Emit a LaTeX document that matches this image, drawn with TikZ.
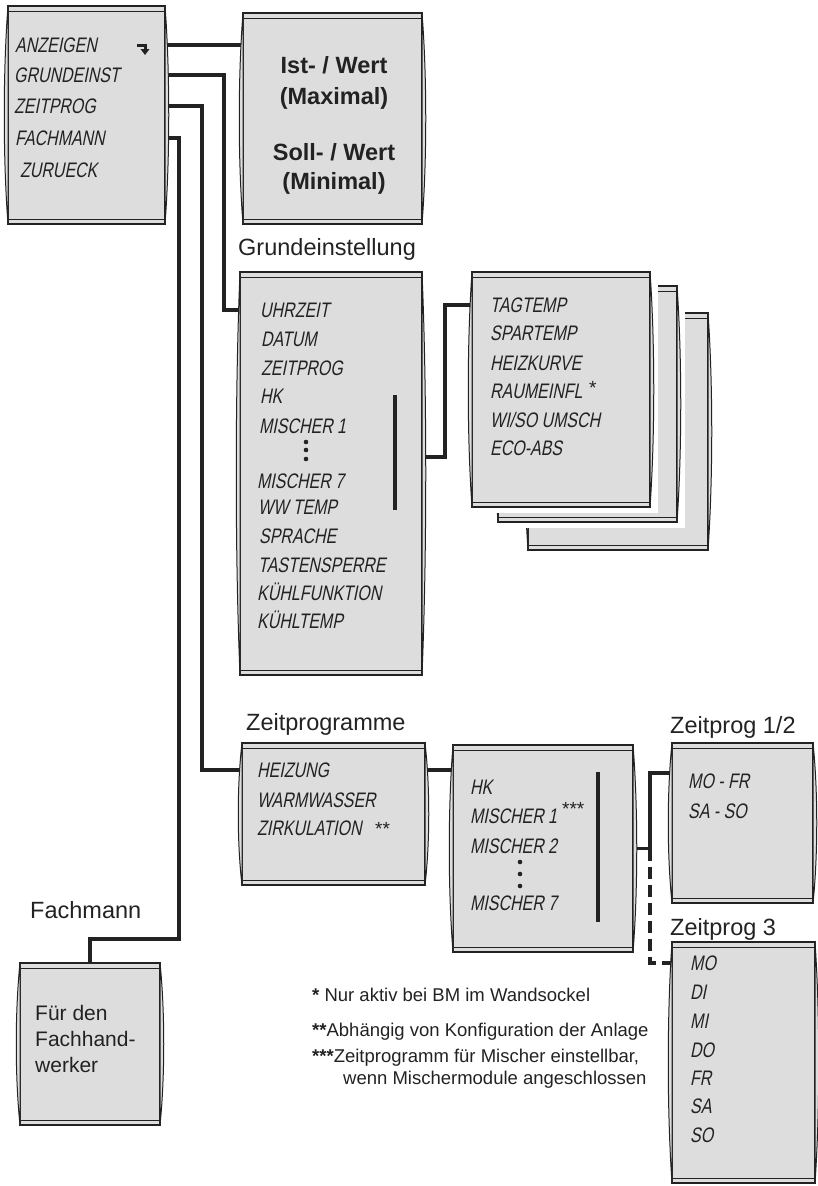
\documentclass[tikz,border=0pt]{standalone}
\usepackage{fontspec}
\setmainfont{Liberation Sans}
\newfontfamily\lcdfont[FakeStretch=0.76,FakeSlant=0.2]{Liberation Sans}
\usepackage{xcolor}
\usepackage{tikz}
\usetikzlibrary{calc,positioning}
\definecolor{lcdgray}{HTML}{DDDDDD}
\definecolor{lcdline}{HTML}{222222}
\pgfdeclarelayer{background}
\pgfsetlayers{background,main}

\tikzset{
  lcdbox/.style={rectangle, draw=lcdline, fill=lcdgray, line width=1.5pt,
    anchor=north west, inner sep=0pt, outer sep=0pt},
  lcd/.style={anchor=base west, inner sep=0pt, text=lcdline,
    font=\lcdfont\fontsize{21}{21}\selectfont},
  menutitle/.style={anchor=base west, inner sep=0pt, text=lcdline,
    font=\fontsize{23.5}{24}\selectfont},
  istext/.style={anchor=base, inner sep=0pt, text=lcdline,
    font=\bfseries\fontsize{23.5}{24}\selectfont},
  boxtext/.style={anchor=base west, inner sep=0pt, text=lcdline,
    font=\fontsize{21}{22}\selectfont},
  hint/.style={anchor=base west, inner sep=0pt, text=lcdline,
    font=\fontsize{18.5}{19}\selectfont},
  star/.style={anchor=base west, inner sep=0pt, text=lcdline,
    font=\fontsize{19}{19}\selectfont},
  wire/.style={draw=lcdline, line width=3.6pt},
  optwire/.style={wire, dash pattern=on 12pt off 6pt}
}

% bezel of a display box: strips on top and bottom, bulging sides
\newcommand{\lcdframe}[1]{%
  \draw[lcdline, line width=0.9pt] ($(#1.north west)+(0,5)$) -- ($(#1.north east)+(0,5)$);
  \draw[lcdline, line width=0.9pt] ($(#1.south west)+(0,-5)$) -- ($(#1.south east)+(0,-5)$);
  \draw[lcdline, fill=lcdgray, line width=1pt] (#1.north west)
    .. controls ($(#1.north west)!0.3!(#1.south west)+(-5,0)$) and ($(#1.north west)!0.7!(#1.south west)+(-5,0)$) .. (#1.south west) -- cycle;
  \draw[lcdline, fill=lcdgray, line width=1pt] (#1.north east)
    .. controls ($(#1.north east)!0.3!(#1.south east)+(5,0)$) and ($(#1.north east)!0.7!(#1.south east)+(5,0)$) .. (#1.south east) -- cycle;
}

\begin{document}
\begin{tikzpicture}[x=1pt,y=-1pt]
  \useasboundingbox (0,0) rectangle (817,1186);

  % Main menu
  \node[lcdbox, minimum width=157pt, minimum height=218pt] (menu) at (8,6) {};
  \lcdframe{menu}
  \node[lcd] (mAnz) at (15,52) {ANZEIGEN};
  \node[lcd] (mGrund) at (14,82) {GRUNDEINST};
  \node[lcd] (mZeit) at (14,113) {ZEITPROG};
  \node[lcd] (mFach) at (15,145) {FACHMANN};
  \node[lcd] (mZur) at (20,177) {ZURUECK};
  \draw[lcdline, line width=3pt] (137,45) -- (145,45) -- (145,50);
  \fill[lcdline] (140.5,49) -- (149.5,49) -- (145,55) -- cycle;

  % Anzeigen
  \node[lcdbox, minimum width=179pt, minimum height=211pt] (ist) at (243,13) {};
  \lcdframe{ist}
  \node[istext] (iIst) at (334,73) {Ist- / Wert};
  \node[istext] (iMax) at (334,104) {(Maximal)};
  \node[istext] (iSoll) at (334,160) {Soll- / Wert};
  \node[istext] (iMin) at (334,189) {(Minimal)};

  % Grundeinstellung
  \node[menutitle] (lGrund) at (238,255) {Grundeinstellung};
  \node[lcdbox, minimum width=182pt, minimum height=403pt] (grund) at (240,272) {};
  \lcdframe{grund}
  \node[lcd] (gUhr) at (260,317) {UHRZEIT};
  \node[lcd] (gDat) at (261,346) {DATUM};
  \node[lcd] (gZeit) at (261,375) {ZEITPROG};
  \node[lcd] (gHk) at (260,403) {HK};
  \node[lcd] (gMi1) at (259,433) {MISCHER 1};
  \node[lcd] (gMi7) at (257,488) {MISCHER 7};
  \node[lcd] (gWw) at (258,514) {WW TEMP};
  \node[lcd] (gSpr) at (259,543) {SPRACHE};
  \node[lcd] (gTast) at (258,572) {TASTENSPERRE};
  \node[lcd] (gKf) at (257,600) {KÜHLFUNKTION};
  \node[lcd] (gKt) at (257,628) {KÜHLTEMP};
  \foreach \y in {442,450,459}
    \fill[lcdline] (306,\y) circle (2.3pt);
  \coordinate (gBarTop) at (395,395);
  \coordinate (gBarBot) at (395,510);

  % Heizkreis parameters (stacked)
  \node[lcdbox, minimum width=180pt, minimum height=237pt] (tag3) at (528,313) {};
  \lcdframe{tag3}
  \fill[white] (498,286) rectangle (685,528);
  \node[lcdbox, minimum width=179pt, minimum height=236pt] (tag2) at (498,286) {};
  \lcdframe{tag2}
  \fill[white] (472,272) rectangle (658,513);
  \node[lcdbox, minimum width=178pt, minimum height=235pt] (tag) at (472,272) {};
  \lcdframe{tag}
  \node[lcd] (tTag) at (490,312) {TAGTEMP};
  \node[lcd] (tSpar) at (490,340) {SPARTEMP};
  \node[lcd] (tHeiz) at (490,370) {HEIZKURVE};
  \node[lcd] (tRaum) at (490,398) {RAUMEINFL};
  \node[star] (sRaum) at (589,394) {*};
  \node[lcd] (tWiSo) at (490,427) {WI/SO UMSCH};
  \node[lcd] (tEco) at (490,455) {ECO-ABS};

  % Zeitprogramme
  \node[menutitle] (lZeit) at (246,730) {Zeitprogramme};
  \node[lcdbox, minimum width=183pt, minimum height=142pt] (zprog) at (242,743) {};
  \lcdframe{zprog}
  \node[lcd] (zHeiz) at (257,777) {HEIZUNG};
  \node[lcd] (zWarm) at (257,807) {WARMWASSER};
  \node[lcd] (zZirk) at (257,835) {ZIRKULATION};
  \node[star] (sZirk) at (375,835) {**};

  \node[lcdbox, minimum width=180pt, minimum height=207pt] (misch) at (453,745) {};
  \lcdframe{misch}
  \node[lcd] (xHk) at (470,794) {HK};
  \node[lcd] (xMi1) at (470,823) {MISCHER 1};
  \node[star] (sMi1) at (562,815) {***};
  \node[lcd] (xMi2) at (470,853) {MISCHER 2};
  \node[lcd] (xMi7) at (470,910) {MISCHER 7};
  \foreach \y in {862,874,886}
    \fill[lcdline] (520,\y) circle (2.3pt);
  \coordinate (xBarTop) at (598,772);
  \coordinate (xBarBot) at (598,922);

  \node[menutitle] (lZp12) at (670,733) {Zeitprog 1/2};
  \node[lcdbox, minimum width=141pt, minimum height=160pt] (zp12) at (672,743) {};
  \lcdframe{zp12}
  \node[lcd] (zMoFr) at (688,788) {MO - FR};
  \node[lcd] (zSaSo) at (688,818) {SA - SO};

  \node[menutitle] (lZp3) at (670,935) {Zeitprog 3};
  \node[lcdbox, minimum width=143pt, minimum height=241pt] (zp3) at (672,942) {};
  \lcdframe{zp3}
  \node[lcd] (zMo) at (690,970) {MO};
  \node[lcd] (zDi) at (690,999) {DI};
  \node[lcd] (zMi) at (690,1028) {MI};
  \node[lcd] (zDo) at (690,1057) {DO};
  \node[lcd] (zFr) at (690,1085) {FR};
  \node[lcd] (zSa) at (690,1113) {SA};
  \node[lcd] (zSo) at (690,1142) {SO};

  % Fachmann
  \node[menutitle] (lFach) at (30,918) {Fachmann};
  \node[lcdbox, minimum width=140pt, minimum height=162pt] (fach) at (20,963) {};
  \lcdframe{fach}
  \node[boxtext] (fFuer) at (35,1020) {Für den};
  \node[boxtext] (fHand) at (35,1046) {Fachhand-};
  \node[boxtext] (fWerk) at (35,1072) {werker};

  % Notes
  \node[hint] (n1) at (312,1001) {\textbf{*} Nur aktiv bei BM im Wandsockel};
  \node[hint] (n2) at (312,1036) {\textbf{**}Abhängig von Konfiguration der Anlage};
  \node[hint] (n3) at (312,1062) {\textbf{***}Zeitprogramm für Mischer einstellbar,};
  \node[hint] (n4) at (343,1084) {wenn Mischermodule angeschlossen};

  % Connections
  \begin{pgfonlayer}{background}
    \draw[wire] (menu.east |- mAnz) -- (ist.west |- mAnz);
    \draw[wire] (menu.east |- mGrund) -- ++(59,0) |- (grund.west |- gUhr);
    \draw[wire] (menu.east |- mZeit) -- ++(37,0) |- (zprog.west |- zHeiz);
    \draw[wire] (menu.east |- mFach) -- ++(14,0) -- ++(0,801) -| (fach.north);
    \draw[wire] ($(gBarTop)!0.54!(gBarBot)$) -- ++(50,0) |- (tag.west |- tTag);
    \draw[wire] (zprog.east |- zHeiz) -- (misch.west |- zHeiz);
    \draw[wire] ($(xBarTop)!0.51!(xBarBot)$) coordinate (xJoin) -- ++(52,0) coordinate (xFork)
      |- (zp12.west |- zMoFr.north);
    \draw[optwire] (xFork) |- (zp3.west |- zMo);
  \end{pgfonlayer}
  \draw[lcdline, line width=3.8pt] (gBarTop) -- (gBarBot);
  \draw[lcdline, line width=3.8pt] (xBarTop) -- (xBarBot);
\end{tikzpicture}
\end{document}
